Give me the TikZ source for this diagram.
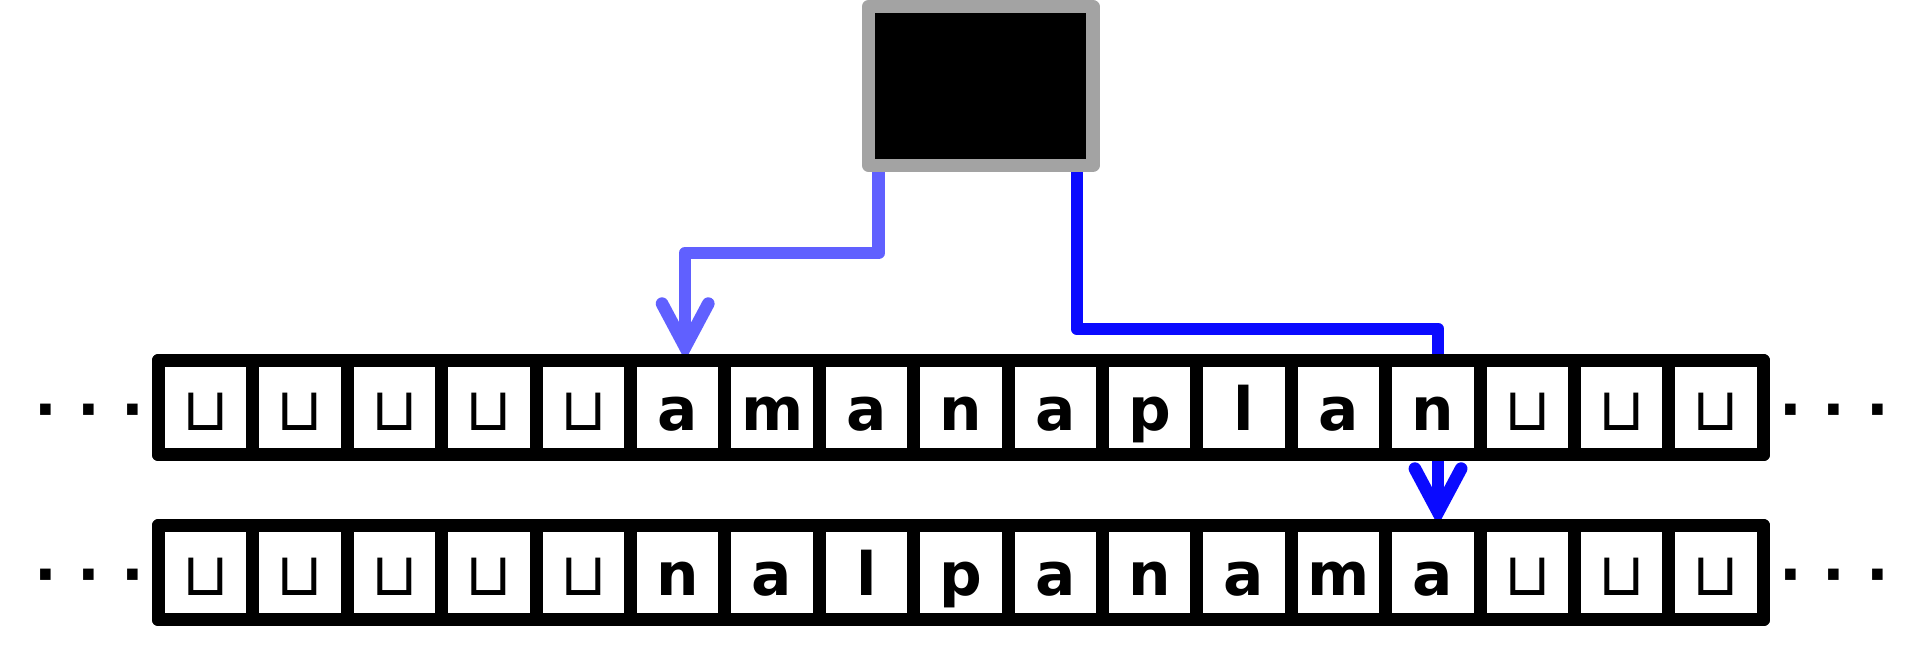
\documentclass[tikz,border=0pt]{standalone}
\usepackage{fontspec}
\setmainfont{DejaVu Sans}
\newfontfamily\symfont{DejaVu Sans}
\usetikzlibrary{arrows.meta,backgrounds}
\definecolor{headgray}{RGB}{163,163,163}
\definecolor{readblue}{RGB}{96,96,255}
\definecolor{writeblue}{RGB}{10,10,255}
\newcommand{\blanksym}{{\mdseries\symfont ⊔}}
\tikzset{
  cell/.style     ={draw,fill=white,line width=0.138cm,line join=round,minimum size=1cm,
                    inner sep=0pt,outer sep=0pt,text height=0.6cm,text depth=0.108cm,
                    font=\fontsize{18}{20}\selectfont\bfseries},
  tapeframe/.style={draw,line width=0.138cm,line join=round},
  headbox/.style  ={draw=headgray,fill=black,line width=0.138cm,line join=round,
                    minimum width=2.378cm,minimum height=1.684cm,inner sep=0pt},
  more/.style     ={font=\fontsize{18}{20}\selectfont\bfseries,inner sep=0pt,anchor=base},
  rdarrow/.style  ={readblue,line width=0.134cm,line join=round,
                    -{Straight Barb[length=4.6mm,width=4.9mm,line cap=round,line join=miter]}},
  wrarrow/.style  ={rdarrow,writeblue},
}

\begin{document}
\begin{tikzpicture}
  \useasboundingbox (0,0) rectangle (20.381,6.843);
  % head of the machine
  \node[headbox] (head) at (10.389,5.932) {};
  % tape before the step
  \foreach \c [count=\k from 0] in {\blanksym,\blanksym,\blanksym,\blanksym,\blanksym,
                                    a,m,a,n,a,p,l,a,n,\blanksym,\blanksym,\blanksym}
    \node[cell] (t\k) at (2.179+\k,2.524) {\c};
  \draw[tapeframe] (t0.south west) rectangle (t16.north east);
  \node[more] (tl) at (0.946,2.278) {· · ·};
  \node[more] (tr) at (19.428,2.278) {· · ·};
  % tape after the step
  \foreach \c [count=\k from 0] in {\blanksym,\blanksym,\blanksym,\blanksym,\blanksym,
                                    n,a,l,p,a,n,a,m,a,\blanksym,\blanksym,\blanksym}
    \node[cell] (b\k) at (2.179+\k,0.776) {\c};
  \draw[tapeframe] (b0.south west) rectangle (b16.north east);
  \node[more] (bl) at (0.946,0.530) {· · ·};
  \node[more] (br) at (19.428,0.530) {· · ·};
  % read and write heads, behind the tapes
  \begin{scope}[on background layer]
    \draw[rdarrow] ([xshift=1.75mm]head.south west) -- ++(0,-0.86) -| ([xshift=0.79mm]t5.north);
    \draw[wrarrow] ([xshift=-2.38mm]head.south east) -- ++(0,-1.663) -| ([xshift=0.54mm]b13.north);
  \end{scope}
\end{tikzpicture}
\end{document}
